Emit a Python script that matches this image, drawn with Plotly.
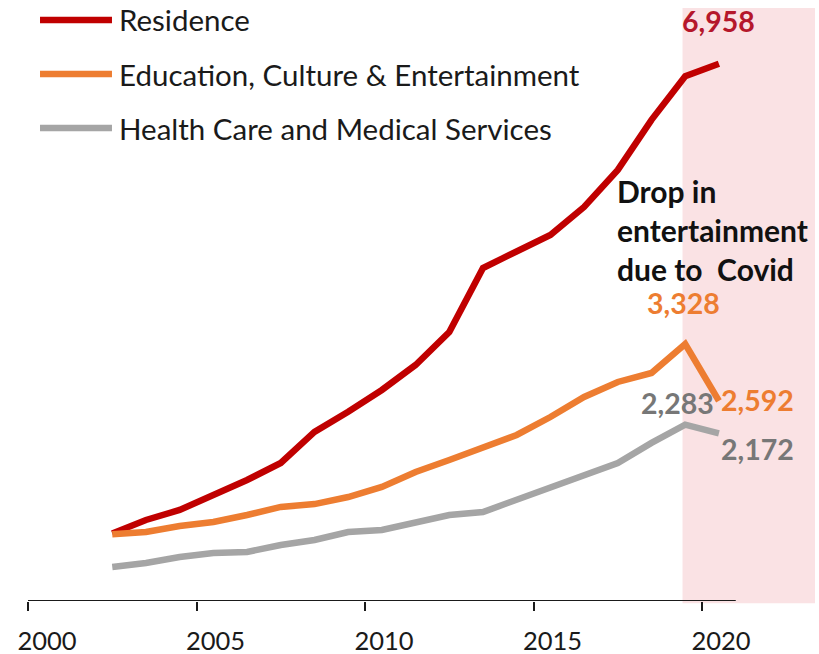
import plotly.graph_objects as go

# Annual spending per household (yuan), 2002-2020
years = list(range(2002, 2021))
residence = [875, 1049, 1179, 1373, 1567, 1788, 2189, 2450, 2733, 3057, 3484,
             4313, 4521, 4741, 5104, 5583, 6231, 6795, 6958]
education = [865, 894, 971, 1023, 1114, 1218, 1255, 1347, 1477, 1671, 1826,
             1995, 2150, 2383, 2642, 2837, 2953, 3328, 2592]
health = [440, 492, 570, 622, 635, 725, 790, 894, 920, 1023, 1114,
          1153, 1308, 1464, 1632, 1788, 2047, 2283, 2172]

series_names = ["Residence", "Education, Culture & Entertainment",
                "Health Care and Medical Services"]
series_values = [residence, education, health]
line_colors = ["#C00000", "#ED7D31", "#A5A5A5"]

tick_years = [2000, 2005, 2010, 2015, 2020]
covid_start, covid_end = 2019.42, 2023.35

FONT = "Lato"
W, H = 819, 654
M_L, M_R, M_T, M_B = 28, 1, 8, 53

# values are plotted at mid-year
xpos = [y + 0.5 for y in years]

fig = go.Figure()

# Covid-period shading
fig.add_shape(type="rect", xref="x", yref="paper", x0=covid_start, x1=covid_end,
              y0=-0.004, y1=1, fillcolor="#FAE2E4", line_width=0, layer="below")

for name, vals, col in zip(series_names, series_values, line_colors):
    fig.add_trace(go.Scatter(x=xpos, y=vals, mode="lines", name=name,
                             line=dict(color=col, width=6.5),
                             showlegend=False, cliponaxis=False))

# baseline axis
fig.add_shape(type="line", xref="x", yref="y", x0=2000, x1=2021, y0=0, y1=0,
              line=dict(color="#1a1a1a", width=2), layer="above")

# custom legend rows
legend_y = [0.9798, 0.8887, 0.7976]
for name, col, ly in zip(series_names, line_colors, legend_y):
    fig.add_shape(type="line", xref="paper", yref="paper", x0=0.0152, x1=0.1063,
                  y0=ly, y1=ly, line=dict(color=col, width=6.5))
    fig.add_annotation(xref="paper", yref="paper", x=0.1127, y=ly, text=name,
                       showarrow=False, xanchor="left", yanchor="middle",
                       font=dict(family=FONT, size=29.5, color="#1a1a1a"))

# value callouts
last, peak = xpos[-1], xpos[-2]
callouts = [
    (last, residence[-1], 0, 43, "#B5172B"),
    (peak, education[-2], -2, 41, "#ED7D31"),
    (peak, health[-2], -8, 22, "#777777"),
    (last, education[-1], 39, 1, "#ED7D31"),
    (last, health[-1], 39, -16, "#777777"),
]
for x, v, dx, dy, col in callouts:
    fig.add_annotation(x=x, y=v, text=f"<b>{v:,}</b>", showarrow=False,
                       xshift=dx, yshift=dy, xanchor="center", yanchor="middle",
                       font=dict(family=FONT, size=28.5, color=col))

fig.add_annotation(xref="paper", yref="paper", x=0.743, y=0.6256,
                   text="<b>Drop in<br>entertainment<br>due to  Covid</b>",
                   showarrow=False, xanchor="left", yanchor="middle", align="left",
                   font=dict(family=FONT, size=30, color="#111111"))

fig.update_xaxes(range=[2000, 2023.44], tickvals=tick_years,
                 ticktext=[str(t) for t in tick_years],
                 ticks="outside", ticklen=9, tickwidth=2, tickcolor="#1a1a1a",
                 ticklabelshift=19, ticklabelstandoff=8, automargin=False,
                 showline=False, showgrid=False, zeroline=False,
                 tickfont=dict(family=FONT, size=25.5, color="#1a1a1a"))
fig.update_yaxes(range=[0, 7680], visible=False, showgrid=False, zeroline=False,
                 automargin=False)

fig.update_layout(width=W, height=H, margin=dict(l=M_L, r=M_R, t=M_T, b=M_B),
                  plot_bgcolor="white", paper_bgcolor="white")

fig.write_html("out.html")
